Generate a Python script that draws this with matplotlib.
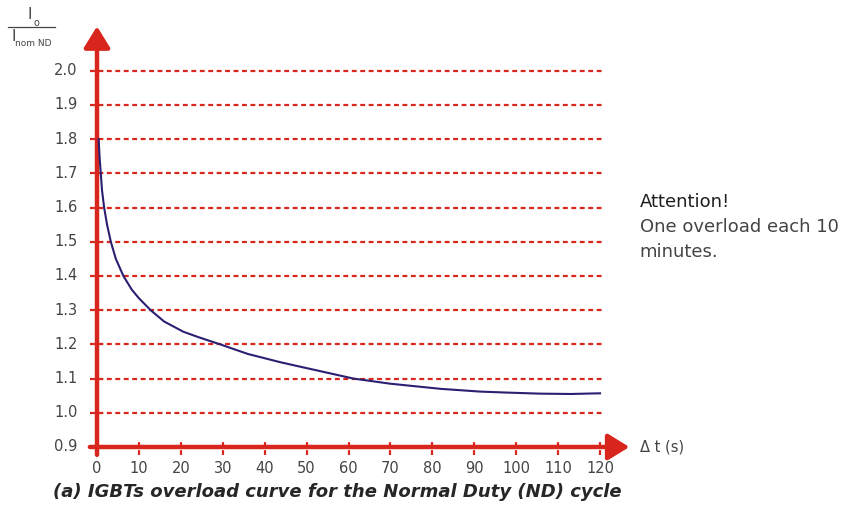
import matplotlib.pyplot as plt
from matplotlib.patches import FancyArrowPatch

# overload curve, read at sample times (s) -> I_o / I_nom ND
t_s = [0.4, 0.6, 0.9, 1.2, 1.7, 2.4, 3.3, 4.5, 6.3, 8.3, 10.0, 12.8, 16.0,
       20.6, 24.0, 29.4, 36.0, 43.7, 48.4, 55.0, 61.2, 70.0, 82.0, 91.4,
       98.0, 105.7, 113.0, 120.0]
ratio = [1.80, 1.75, 1.70, 1.65, 1.60, 1.55, 1.50, 1.45, 1.40, 1.36, 1.335,
         1.30, 1.267, 1.237, 1.222, 1.20, 1.172, 1.148, 1.135, 1.117, 1.10,
         1.085, 1.070, 1.062, 1.059, 1.056, 1.055, 1.057]

x_ticks = list(range(0, 121, 10))
y_ticks = [0.9, 1.0, 1.1, 1.2, 1.3, 1.4, 1.5, 1.6, 1.7, 1.8, 1.9, 2.0]

RED = '#d9261c'
NAVY = '#2b1f72'
GREY = '#444444'
plt.rcParams['font.family'] = ['DejaVu Sans']

fig = plt.figure(figsize=(8.43, 5.13), dpi=100)
ax = fig.add_axes([0, 0, 1, 1])
ax.set_xlim(-23.14, 177.96)
ax.set_ylim(0.707, 2.207)
ax.axis('off')

# dotted guide lines at each level
for v in y_ticks[1:]:
    ax.plot([-1.7, 120.5], [v, v], color=RED, lw=1.6, ls=(0, (2.2, 1.6)), zorder=1)
for v in y_ticks:
    ax.text(-4.6, v, f'{v:.1f}', ha='right', va='center', fontsize=10.5, color=GREY)

# dashed tick marks on the time axis
for t in x_ticks:
    if t > 0:
        ax.plot([t, t], [0.878, 0.922], color=RED, lw=1.6, ls=(0, (2.2, 1.4)), zorder=2)
    ax.text(t, 0.838, str(t), ha='center', va='center', fontsize=10.5, color=GREY)

# arrowed axes
for start, tip in [((-1.7, 0.9), (127.0, 0.9)), ((0, 0.877), (0, 2.13))]:
    ax.add_patch(FancyArrowPatch(start, tip, arrowstyle='-|>,head_length=1.3,head_width=0.8',
                                 mutation_scale=10, lw=3.2, color=RED,
                                 shrinkA=0, shrinkB=0, zorder=3))

ax.plot(t_s, ratio, color=NAVY, lw=1.5, zorder=4)

ax.text(129.5, 0.9, 'Δ t (s)', ha='left', va='center', fontsize=10.5, color=GREY)

# y quantity as a fraction
ax.text(-16.0, 2.165, 'I', ha='center', va='center', fontsize=11, color=GREY)
ax.text(-14.5, 2.140, 'o', ha='center', va='center', fontsize=7, color=GREY)
ax.plot([-21.2, -10.0], [2.128, 2.128], color=GREY, lw=0.9)
ax.text(-19.8, 2.100, 'I', ha='center', va='center', fontsize=11, color=GREY)
ax.text(-15.2, 2.079, 'nom ND', ha='center', va='center', fontsize=6.5, color=GREY)

ax.text(129.5, 1.615, 'Attention!', ha='left', va='center', fontsize=13, color='#1e1e1e')
ax.text(129.5, 1.543, 'One overload each 10', ha='left', va='center', fontsize=13, color=GREY)
ax.text(129.5, 1.470, 'minutes.', ha='left', va='center', fontsize=13, color=GREY)

ax.text(57.3, 0.769, '(a) IGBTs overload curve for the Normal Duty (ND) cycle',
        ha='center', va='center', fontsize=13, fontweight='bold', fontstyle='italic',
        color='#262626')

fig.savefig('out.png', dpi=100)
